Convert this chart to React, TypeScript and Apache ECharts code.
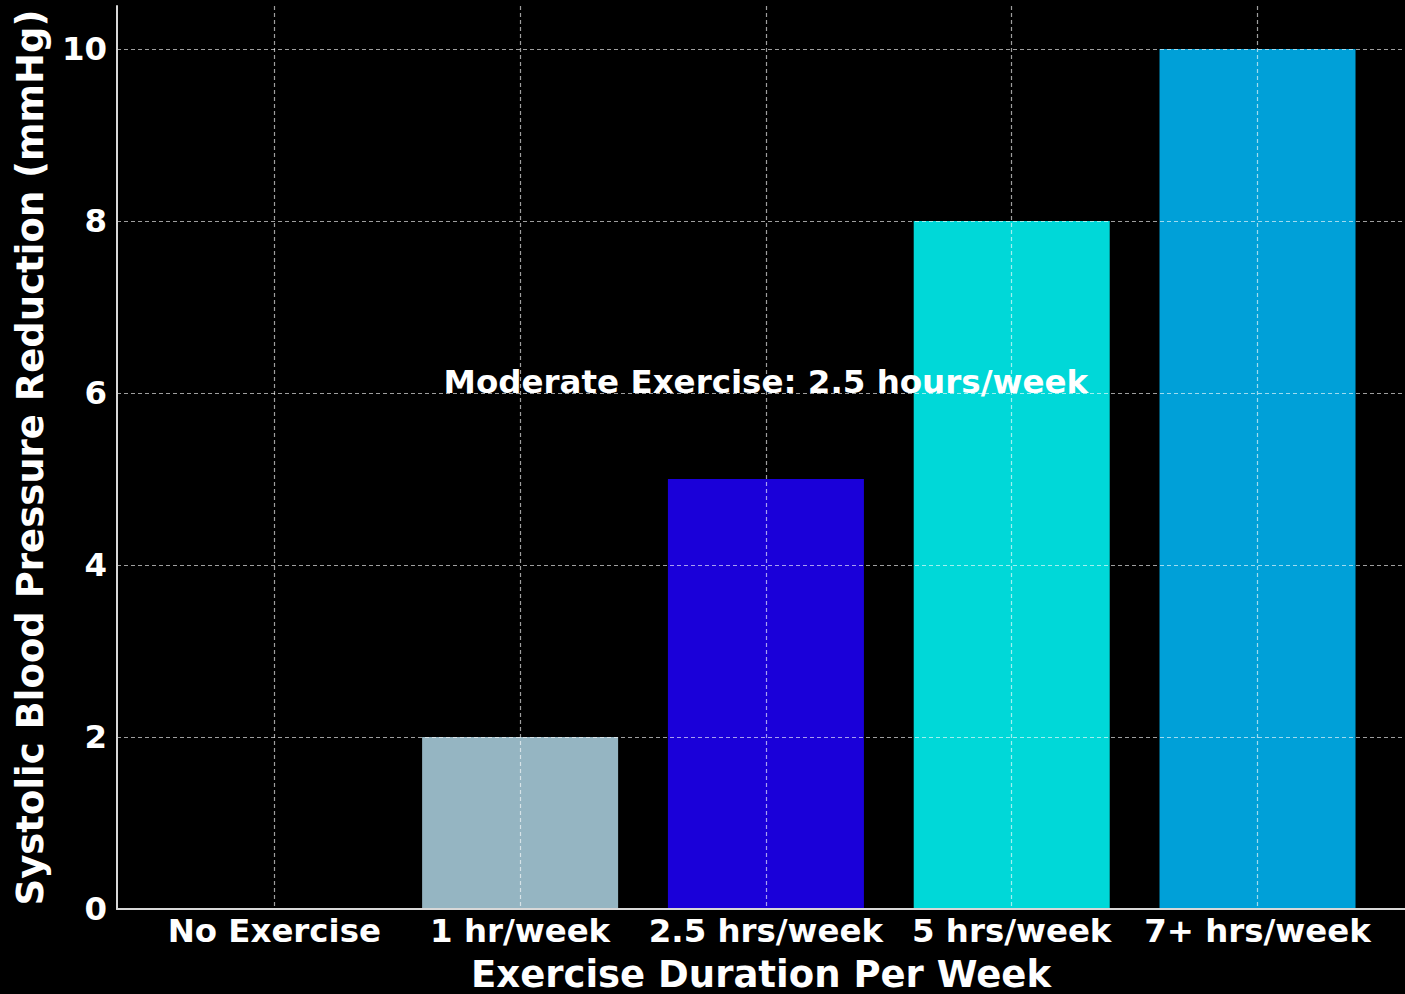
import React, { useEffect, useRef } from "react";
import * as echarts from "echarts";

// Exercise duration categories and the matching systolic reduction (mmHg)
const categories = ["No Exercise", "1 hr/week", "2.5 hrs/week", "5 hrs/week", "7+ hrs/week"];
const reductions = [0, 2, 5, 8, 10];
const barColors = ["#7f7f7f", "#95b5c2", "#1a00d9", "#00d8d8", "#00a0d8"];
const yTicks = [0, 2, 4, 6, 8, 10];
const xTicks = [0, 1, 2, 3, 4];

// Annotation placed in data space over the middle category
const noteText = "Moderate Exercise: 2.5 hours/week";
const notePoint = [2, 6];

const FONT = "DejaVu Sans";

export default function App() {
  const ref = useRef<HTMLDivElement>(null);

  useEffect(() => {
    if (!ref.current) return;
    const chart = echarts.init(ref.current, null, { renderer: "svg" });

    const gridLine = {
      show: true,
      lineStyle: { color: "rgba(255,255,255,0.62)", type: [4, 3], width: 1.2 },
    };

    chart.setOption({
      animation: false,
      backgroundColor: "#000000",
      grid: {
        left: 117,
        right: 0,
        top: 6,
        bottom: 85,
        containLabel: false,
        outerBoundsMode: "none",
      },
      xAxis: {
        type: "value",
        min: -0.64,
        max: 4.6,
        z: 3,
        name: "Exercise Duration Per Week",
        nameLocation: "middle",
        nameGap: 47,
        nameMoveOverlap: false,
        nameTextStyle: {
          color: "#ffffff",
          fontFamily: FONT,
          fontWeight: "bold",
          fontSize: 37,
          lineHeight: 36,
        },
        axisLine: { show: true, onZero: false, lineStyle: { color: "#d8d8d8", width: 2 } },
        axisTick: { show: false, customValues: xTicks },
        axisLabel: {
          customValues: xTicks,
          formatter: (v: number) => categories[Math.round(v)] ?? "",
          color: "#ffffff",
          fontFamily: FONT,
          fontWeight: "bold",
          fontSize: 32.4,
          margin: 6,
        },
        splitLine: gridLine,
      },
      yAxis: {
        type: "value",
        min: 0,
        max: 10.5,
        z: 3,
        name: "Systolic Blood Pressure Reduction (mmHg)",
        nameLocation: "middle",
        nameGap: 68,
        nameMoveOverlap: false,
        nameTextStyle: { color: "#ffffff", fontFamily: FONT, fontWeight: "bold", fontSize: 37 },
        axisLine: { show: true, onZero: false, lineStyle: { color: "#d8d8d8", width: 2 } },
        axisTick: { show: false, customValues: yTicks },
        axisLabel: {
          customValues: yTicks,
          color: "#ffffff",
          fontFamily: FONT,
          fontWeight: "bold",
          fontSize: 32.4,
          margin: 10,
        },
        splitLine: gridLine,
      },
      series: [
        {
          type: "bar",
          barWidth: 196,
          z: 2,
          data: reductions.map((v, i) => ({
            value: [i, v],
            itemStyle: { color: barColors[i] },
          })),
        },
        {
          type: "scatter",
          z: 6,
          symbolSize: 0,
          silent: true,
          itemStyle: { opacity: 1 },
          data: [notePoint],
          label: {
            show: true,
            position: "top",
            distance: -5,
            formatter: noteText,
            color: "#ffffff",
            opacity: 1,
            fontFamily: FONT,
            fontWeight: "bold",
            fontSize: 32.5,
          },
        },
      ],
    });

    return () => chart.dispose();
  }, []);

  return (
    <div
      ref={ref}
      style={{ position: "absolute", left: 0, top: 0, width: 1405, height: 994 }}
    />
  );
}
